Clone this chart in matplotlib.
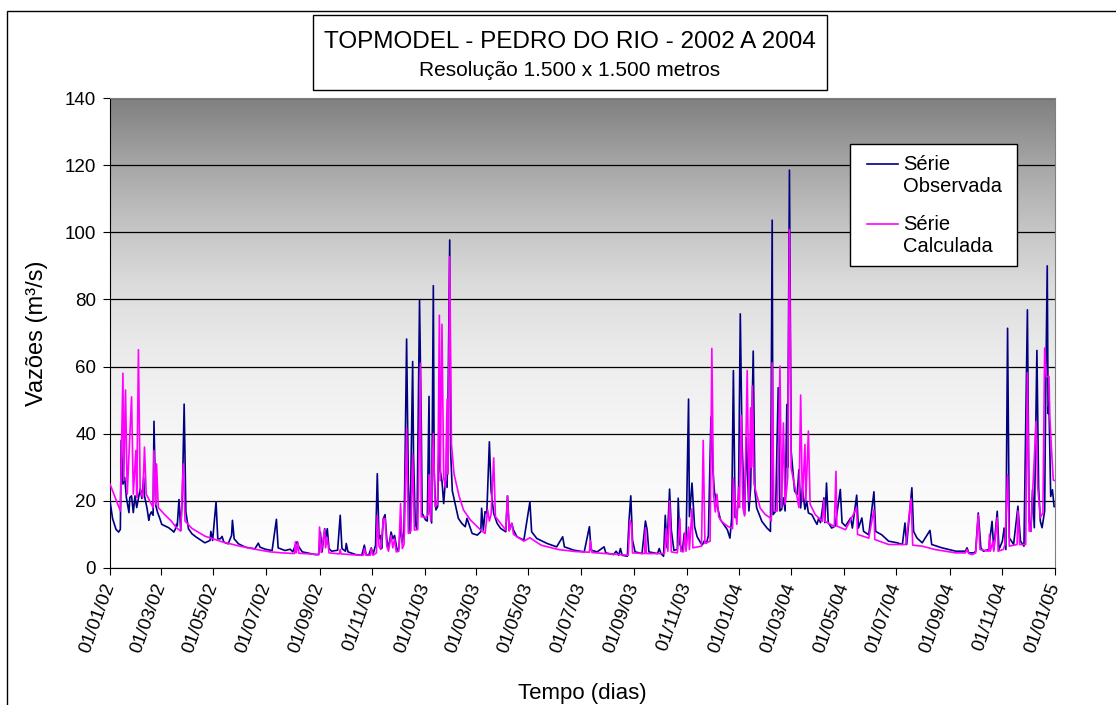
import numpy as np
import matplotlib
matplotlib.use("Agg")
import matplotlib.pyplot as plt
import matplotlib.dates as mdates
from matplotlib.colors import LinearSegmentedColormap
from matplotlib.patches import Rectangle
from matplotlib.lines import Line2D

plt.rcParams['font.family'] = ['Liberation Sans', 'DejaVu Sans']

start = np.datetime64('2002-01-01')
end = np.datetime64('2005-01-01')

# dias desde 01/01/2002 e vazões (m3/s)
obs_days = [0, 3, 7, 10, 12, 13, 15, 17, 19, 22, 23, 25, 27, 29, 31, 35, 37, 39, 40, 43,
            45, 46, 48, 50, 51, 53, 55, 58, 60, 64, 68, 72, 74, 76, 77, 78, 80, 82, 84, 86,
            88, 91, 95, 100, 106, 110, 116, 117, 119, 123, 125, 128, 130, 132, 137, 141, 142, 144, 149, 157,
            168, 172, 174, 180, 188, 193, 195, 203, 209, 212, 215, 217, 219, 223, 238, 242, 244, 246, 249, 250,
            252, 254, 257, 264, 267, 269, 273, 274, 276, 285, 292, 295, 297, 300, 303, 305, 308, 310, 312, 314,
            315, 317, 319, 321, 323, 326, 328, 330, 333, 335, 337, 339, 341, 342, 344, 346, 348, 351, 352, 354,
            356, 359, 361, 362, 366, 368, 370, 371, 373, 375, 376, 378, 380, 382, 383, 385, 387, 389, 391, 394,
            395, 397, 401, 404, 408, 412, 414, 416, 420, 426, 430, 431, 433, 435, 437, 440, 442, 445, 449, 453,
            459, 461, 463, 466, 468, 472, 476, 480, 487, 489, 492, 495, 507, 518, 525, 527, 538, 550, 556, 558,
            565, 573, 575, 584, 587, 590, 592, 594, 600, 602, 604, 606, 609, 617, 621, 623, 625, 635, 637, 639,
            642, 644, 646, 649, 651, 654, 658, 659, 661, 664, 666, 668, 671, 672, 675, 678, 681, 685, 687, 689,
            692, 694, 697, 699, 701, 704, 708, 712, 716, 719, 721, 723, 725, 727, 729, 731, 733, 736, 738, 741,
            743, 746, 748, 750, 756, 762, 766, 768, 769, 772, 775, 777, 779, 781, 783, 785, 786, 788, 790, 792,
            794, 797, 799, 801, 803, 806, 808, 810, 814, 818, 820, 822, 824, 828, 829, 831, 833, 837, 841, 847,
            849, 853, 859, 861, 866, 868, 872, 874, 880, 886, 888, 895, 903, 913, 919, 922, 924, 930, 932, 936,
            942, 951, 953, 965, 973, 981, 992, 994, 996, 1002, 1004, 1007, 1010, 1013, 1019, 1023, 1025, 1029, 1031, 1035,
            1037, 1039, 1041, 1043, 1048, 1053, 1056, 1060, 1064, 1066, 1068, 1070, 1072, 1075, 1077, 1079, 1081, 1084, 1085, 1087,
            1088, 1089, 1091, 1093, 1095]
obs_vals = [20, 14.7, 11.5, 10.7, 11.5, 38, 25, 27, 21, 16.5, 21, 21.5, 16.5, 21.5, 18, 23.6, 20.7, 27, 21.5, 17.7,
            14.2, 15.7, 16.7, 15.7, 43.7, 18.7, 16.7, 14.6, 13, 12.5, 12, 11.2, 10.7, 11.7, 13, 12.5, 20.4, 11.2, 22.5, 48.8,
            16.7, 11.7, 10.2, 9.2, 8.2, 7.5, 8.2, 10.9, 8.2, 19.7, 8.7, 8.7, 9.4, 7.7, 7.2, 9.7, 14.2, 8.7, 7.2, 6.2,
            5.7, 7.4, 6.2, 5.6, 5.2, 14.5, 6, 5.2, 5.6, 4.8, 6.8, 7.8, 6.3, 4.8, 4.0, 4.0, 10.7, 4.8, 11.7, 8.7,
            11.7, 5.8, 5.0, 5.3, 15.7, 5.8, 5.0, 7.3, 4.8, 4.0, 3.8, 6.8, 4.0, 3.8, 6.0, 4.0, 6.8, 28.1, 8.7, 9.7,
            5.8, 14.7, 15.9, 8.7, 5.8, 10.7, 8.7, 9.7, 5.3, 5.8, 12.7, 7.5, 11.3, 28, 68.2, 25.2, 10.4, 61.5, 34, 13.4,
            11.4, 79.7, 43, 16.3, 14.3, 14, 51.1, 17.3, 13.4, 84.1, 28.2, 17.3, 18.3, 42, 29, 26, 19.2, 26, 24, 97.7,
            35, 23, 18.3, 14.8, 13.3, 12.3, 14.8, 13.3, 10.3, 9.8, 10.8, 17.8, 11.3, 16.8, 16.3, 37.6, 23, 16.3, 13.3, 11.8,
            10.8, 21.5, 11.3, 13.3, 11.3, 9.3, 8.8, 8.3, 19.7, 10.8, 9.8, 8.8, 7.3, 6.3, 9.3, 6.3, 5.3, 4.8, 12.3, 5.3,
            4.8, 6.3, 4.5, 4.0, 5.0, 3.8, 5.8, 3.8, 3.5, 14.3, 21.5, 8.3, 4.8, 4.3, 14, 11.3, 4.8, 4.3, 5.8, 4.3,
            3.5, 15.7, 6, 23.5, 11.3, 5.3, 5.5, 20.8, 7, 5.3, 10.3, 6, 50.3, 15.3, 25.3, 12.3, 9.3, 7.5, 6.9, 8,
            7.5, 9.7, 45, 30, 22.7, 18.7, 14.4, 12.9, 11.4, 8.9, 14.7, 58.8, 15, 15.7, 22, 75.7, 37.8, 15.9, 38.8, 17,
            23.9, 64.6, 22.9, 17.9, 13.9, 11.9, 10.9, 103.6, 15.9, 16.9, 53.7, 17, 17.5, 20.9, 17, 48.7, 30, 118.5, 34.8, 28.8,
            22.9, 21.9, 29.3, 17.9, 23.9, 17.5, 19.9, 16.4, 15.9, 13.9, 13, 14.9, 13.5, 20.9, 13.5, 25.3, 13.5, 11.9, 12.5, 23.4,
            13.5, 12.5, 14.9, 11.9, 21.7, 11.9, 14.9, 10.9, 9.9, 22.7, 10.9, 9.9, 8, 7.5, 7, 13.4, 7, 23.9, 10.9, 8.9,
            7.5, 11.2, 7, 6, 5.5, 5, 5, 6, 4.5, 4.5, 5, 16.4, 6, 5, 5.5, 13.9, 5.5, 16.9, 5.5, 8,
            11.9, 5.5, 71.4, 9, 7, 18.4, 8, 6.5, 76.9, 14, 10.9, 23.4, 12, 64.8, 23.9, 13.9, 12, 17, 46.7, 90,
            46, 49, 21.3, 23.3, 18.3]

calc_days = [0, 12, 15, 16, 18, 20, 25, 27, 30, 31, 33, 35, 38, 40, 42, 50, 51, 53, 54, 56,
             63, 71, 77, 82, 85, 87, 95, 110, 130, 149, 170, 186, 200, 214, 215, 216, 218, 219, 242, 243,
             245, 249, 250, 252, 254, 266, 267, 268, 290, 294, 295, 297, 302, 303, 305, 309, 310, 312, 314, 317,
             319, 321, 323, 326, 328, 330, 332, 335, 336, 337, 339, 341, 342, 344, 346, 349, 351, 353, 357, 360,
             361, 366, 369, 370, 372, 375, 377, 380, 382, 383, 385, 387, 389, 391, 392, 394, 396, 399, 405, 410,
             418, 430, 435, 438, 440, 442, 445, 447, 453, 459, 461, 463, 466, 468, 480, 487, 500, 520, 540, 556,
             557, 559, 580, 601, 603, 605, 606, 620, 621, 622, 643, 645, 647, 649, 651, 658, 661, 662, 665, 667,
             668, 671, 672, 675, 676, 686, 688, 690, 696, 698, 700, 702, 704, 706, 710, 716, 722, 723, 725, 727,
             729, 730, 732, 734, 736, 739, 741, 743, 744, 745, 747, 748, 754, 760, 766, 767, 768, 770, 774, 777,
             779, 781, 783, 785, 786, 788, 790, 793, 797, 799, 801, 803, 806, 807, 810, 812, 818, 826, 828, 829,
             836, 840, 842, 843, 853, 866, 867, 880, 886, 887, 903, 923, 929, 931, 942, 957, 981, 992, 994, 996,
             1000, 1004, 1007, 1009, 1019, 1020, 1021, 1024, 1025, 1029, 1030, 1036, 1038, 1041, 1043, 1052, 1053, 1055, 1062, 1064,
             1066, 1068, 1073, 1074, 1076, 1079, 1082, 1084, 1086, 1089, 1090, 1092, 1094, 1096]
calc_vals = [25, 17, 58, 26, 53, 22, 51, 22, 35, 21, 65, 23, 21, 36, 22, 18, 35, 19, 31, 18,
             16, 14, 12, 11, 31, 14, 11.8, 9.5, 7.8, 6.6, 5.5, 4.8, 4.5, 4.3, 7.8, 4.5, 7.6, 4.4, 4, 12.2,
             4.6, 11.5, 6, 9, 4.5, 4.2, 5.5, 4.2, 3.8, 3.8, 5.8, 3.8, 3.8, 5.8, 3.8, 4.5, 15.7, 6.5, 5.5, 14.7,
             14.7, 6.5, 5, 9.7, 6, 8.7, 4.8, 5, 11.7, 19.2, 5.8, 7, 16.3, 41.6, 10.3, 11, 34, 11.3, 11.5, 61,
             15.3, 15, 16, 27.8, 14, 40, 18.3, 19, 75.3, 26, 72.6, 27, 24, 50.3, 28, 92.7, 37, 28, 21.3, 17.3,
             14.3, 11.3, 10.3, 17.3, 14, 16, 32.8, 15.3, 13.3, 11.3, 21.5, 11, 13.3, 10, 8, 9, 6.8, 5.5, 4.9, 4.7,
             8.2, 4.6, 4.2, 3.8, 14.3, 12.7, 4.5, 4.3, 12, 4.3, 4.3, 11.7, 5, 19.9, 4.8, 4.5, 14.7, 5, 4.8, 10.7,
             5, 12.2, 5.5, 17.7, 6, 6.5, 38, 7.3, 8, 65.4, 21.7, 16.7, 22, 15.2, 13.7, 12.5, 11.7, 26.8, 17.7, 13,
             24, 18, 45.5, 18, 15.5, 58.8, 20, 47.7, 30, 54.2, 25, 23.9, 17.9, 15.9, 14.9, 14, 61.1, 17, 17, 60.1,
             18, 43.2, 19, 24, 27, 100.9, 29.8, 25.8, 20.9, 18, 51.5, 20, 36.8, 20, 40.8, 19, 15.9, 13.9, 20.4, 13.9,
             13, 12.3, 28.8, 12.5, 11.4, 17.9, 10, 8.9, 17.4, 8.5, 7, 7, 20.7, 6.8, 6.5, 5.5, 4.5, 4.5, 5.5, 4.3,
             4, 4.5, 15.9, 5.5, 5, 10, 5, 8, 5, 15, 5, 5.5, 7, 27.8, 6.5, 7, 17, 7, 7, 58.2,
             11, 11, 37.8, 43.7, 24, 15, 16.5, 65.5, 57, 57, 45, 35, 26.2, 26]

obs_dates = start + np.array(obs_days, dtype='timedelta64[D]')
calc_dates = start + np.array(calc_days, dtype='timedelta64[D]')

W, H = 1116, 705
fig = plt.figure(figsize=(W / 100, H / 100), dpi=100)
pos = [110 / W, 1 - 568 / H, 945 / W, 470 / H]

# fundo em degradê
bg = fig.add_axes(pos, zorder=0)
bg_cmap = LinearSegmentedColormap.from_list(
    'fundo', [(0, '#ffffff'), (0.15, '#fafafa'), (0.3, '#f5f5f5'), (0.45, '#ececec'),
              (0.6, '#dcdcdc'), (0.72, '#c6c6c6'), (0.86, '#a6a6a6'), (1, '#808080')])
bg.imshow(np.linspace(0, 1, 256).reshape(-1, 1), cmap=bg_cmap, aspect='auto',
          origin='lower', extent=[0, 1, 0, 1])
bg.axis('off')

ax = fig.add_axes(pos, zorder=1)
ax.patch.set_alpha(0)
ax.plot(obs_dates, obs_vals, color='#000080', lw=1.2, zorder=3)
ax.plot(calc_dates, calc_vals, color='#ff00ff', lw=1.2, zorder=4)

ax.set_ylim(0, 140)
ax.set_yticks(range(0, 141, 20))
ax.set_xlim(start, end)
ax.xaxis.set_major_locator(mdates.MonthLocator(bymonth=[1, 3, 5, 7, 9, 11]))
ax.xaxis.set_major_formatter(mdates.DateFormatter('%d/%m/%y'))
ax.yaxis.grid(True, color='black', lw=0.9)
ax.set_axisbelow(True)
ax.tick_params(axis='y', direction='out', length=5, labelsize=13.5, pad=5)
ax.tick_params(axis='x', direction='out', length=5, labelsize=13.5, pad=6, labelrotation=70)
plt.setp(ax.get_xticklabels(), ha='right', va='center', rotation_mode='anchor')
for s in ['left', 'bottom']:
    ax.spines[s].set_color('black')
for s in ['top', 'right']:
    ax.spines[s].set_color('#808080')

fig.text(37 / W, 1 - 333 / H, 'Vazões (m³/s)', rotation=90, ha='center', va='center', fontsize=17)
fig.text(582 / W, 1 - 693 / H, 'Tempo (dias)', ha='center', va='center', fontsize=16)

# caixa do título
fig.patches.append(Rectangle((313 / W, 1 - 90 / H), 514 / W, 75 / H, transform=fig.transFigure,
                             fc='white', ec='black', lw=1))
fig.text(570 / W, 1 - 42 / H, 'TOPMODEL - PEDRO DO RIO - 2002 A 2004', ha='center', va='center', fontsize=17.5)
fig.text(570 / W, 1 - 71 / H, 'Resolução 1.500 x 1.500 metros', ha='center', va='center', fontsize=15)

# legenda
fig.patches.append(Rectangle((850 / W, 1 - 266 / H), 167 / W, 122 / H, transform=fig.transFigure,
                             fc='white', ec='black', lw=1, zorder=5))
fig.lines.append(Line2D([867 / W, 898 / W], [1 - 164 / H] * 2, transform=fig.transFigure,
                        color='#000080', lw=1.2, zorder=6))
fig.lines.append(Line2D([867 / W, 898 / W], [1 - 224 / H] * 2, transform=fig.transFigure,
                        color='#ff00ff', lw=1.2, zorder=6))
for ytxt, txt in [(164, 'Série'), (187, 'Observada'), (224, 'Série'), (247, 'Calculada')]:
    fig.text(903 / W, 1 - ytxt / H, txt, ha='left', va='center', fontsize=14.5, zorder=7)

# moldura externa
fig.patches.append(Rectangle((7 / W, -0.1), 2, 1.1 - 11 / H, transform=fig.transFigure,
                             fill=False, ec='black', lw=1))

fig.savefig('out.png', dpi=100)
